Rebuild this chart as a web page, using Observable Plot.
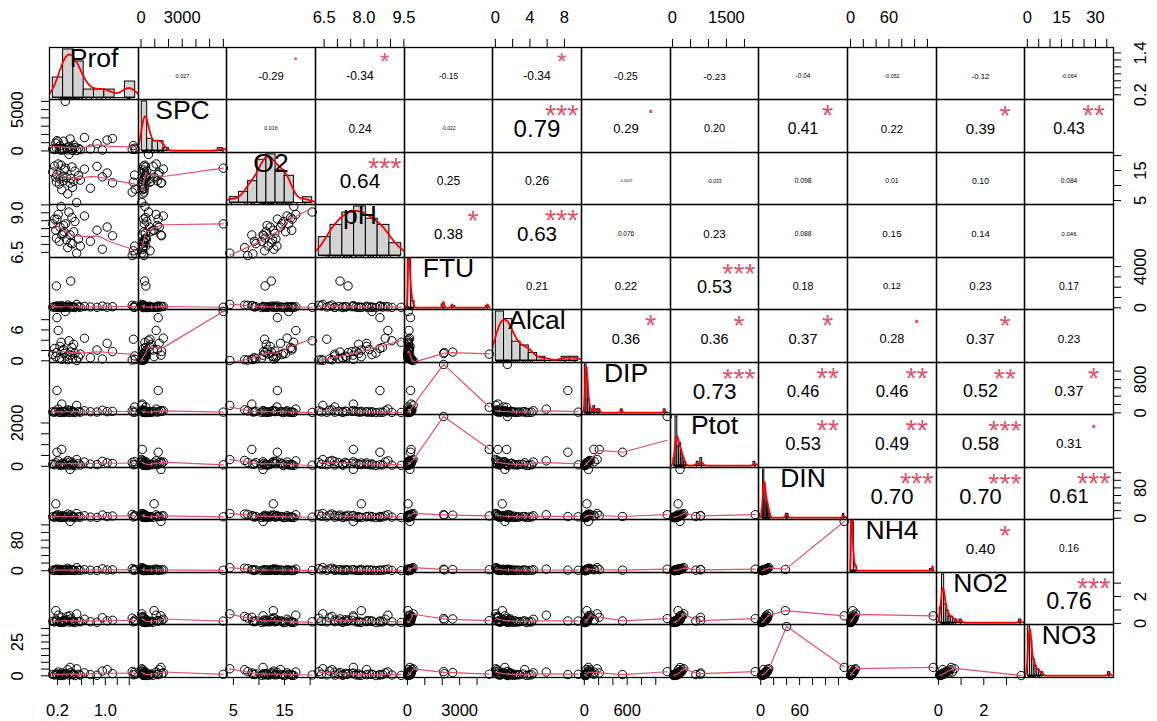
<!DOCTYPE html>
<html><head><meta charset="utf-8">
<script src="https://cdn.jsdelivr.net/npm/d3@7"></script>
<script src="https://cdn.jsdelivr.net/npm/@observablehq/plot@0.6"></script>
<style>
body{margin:0;background:#fff;}
#chart{position:relative;width:1157px;height:721px;background:#fff;overflow:hidden;font-family:"Liberation Sans",Arial,sans-serif;}
#chart svg{position:absolute;overflow:visible;background:transparent;}
</style></head><body><div id="chart"></div>
<script>
// ---- categories ----
const variables = ["Prof","SPC","O2","pH","FTU","Alcal","DIP","Ptot","DIN","NH4","NO2","NO3"];

// ---- observations (estimated from the scatter panels; null = missing) ----
const Prof  = [0.12,0.15,0.17,0.18,0.19,0.21,0.23,0.24,0.26,0.27,0.29,0.30,0.31,0.33,0.35,0.37,0.39,0.41,0.42,0.44,0.45,0.47,0.49,0.52,0.55,0.58,0.65,0.75,0.86,0.95,1.03,1.12,1.45,1.47,1.49,1.50,null,null,null,null];
const SPC   = [240,180,950,350,1250,1100,150,620,280,90,310,1180,200,5990,380,130,540,1450,260,330,70,720,410,50,300,160,1620,230,880,110,1320,1500,210,650,340,190,null,null,null,null];
const O2    = [14.5,16.5,12.8,11.2,13.6,17.2,10.5,12.2,16.8,8.6,13.1,11.6,15.2,15.8,12.6,7.2,20.4,10.8,12.4,16.2,9.4,11.4,14.8,4.3,13.3,11.8,15.5,9.1,16.4,12.9,14.2,10.9,7.8,11.1,13.5,8.8,null,null,null,null];
const pH    = [8.3,8.6,7.9,7.4,8.6,8.9,7.2,8.1,9.4,7.6,7.7,8.2,7.8,8.3,7.3,6.8,9.05,7.6,7.1,8.7,7.05,7.8,8.45,6.45,7.35,6.9,8.8,7.2,7.9,6.7,8.1,7.55,6.3,6.6,6.9,6.4,null,null,null,null];
const FTU   = [60,120,35,2120,180,90,25,150,45,210,70,55,30,50,85,260,40,140,2600,65,110,75,20,330,95,50,130,80,45,160,60,100,240,70,35,190,2080,4700,null,null];
const Alcal = [1.2,2.4,0.8,1.6,8.4,5.9,0.5,2.8,3.6,0.3,1.9,2.2,1.4,9.6,0.9,0.2,3.9,1.1,1.7,2.6,0.4,3.2,1.5,0.05,0.7,1.3,4.4,0.6,2.1,0.35,3.4,1.8,0.15,4.2,0.95,0.25,1.4,1.3,null,null];
const DIP   = [24,15,36,null,535,90,12,21,9,210,33,18,27,17,42,72,11,57,null,13,39,23,7,180,31,16,51,26,20,63,29,36,48,14,140,22,1160,134,null,null];
const Ptot  = [108,72,156,null,650,252,54,90,42,780,144,78,96,66,183,270,51,210,null,63,168,84,36,312,123,57,198,102,76,228,162,132,174,69,216,91,2300,780,null,null];
const DIN   = [4,2.6,38,7.8,4.5,9,2.1,3.5,1.8,7,3,5.2,2.3,3.7,5.5,11,2.8,128.7,8.3,3.2,4.8,4.2,1.7,12.5,3.9,2.7,6.5,3,2.05,8.5,4.5,5.8,10.2,3.4,7.2,5.3,9.5,6.1,40,null];
const NH4   = [1.2,0.8,3.5,2.1,1.5,4.2,0.6,1.0,0.5,2.8,0.9,1.8,0.7,1.1,2.4,6.5,0.9,129,3.1,1.3,2.1,1.6,0.5,8.0,1.4,0.8,2.6,1.2,0.6,4.8,1.7,2.2,5.5,1.1,3.8,1.9,4.1,2.5,null,null];
const NO2   = [0.15,0.11,0.95,0.25,0.18,0.61,0.08,0.13,0.07,0.45,0.12,0.21,0.09,0.17,0.27,0.52,0.11,0.56,0.33,0.11,0.18,0.16,0.06,0.71,0.14,0.12,0.31,0.12,0.08,0.42,0.19,0.23,0.39,0.11,0.25,0.16,0.36,0.21,null,3.65];
const NO3   = [1.0,0.6,null,1.5,0.9,2.8,0.4,0.8,0.3,2.1,0.7,1.2,0.5,1.1,1.8,4.5,0.6,6.2,2.4,0.9,1.4,1.3,0.2,5.2,1.1,0.5,2.2,0.9,0.4,3.5,4.6,1.6,3.1,0.7,2.6,1.15,3.1,1.2,36.5,0.2];

// ---- correlation labels (upper triangle, row by row) and significance ----
const corrLabels = [
  ["0.027","-0.29","-0.34","-0.15","-0.34","-0.25","-0.23","-0.04","-0.052","-0.12","-0.064"],
  ["0.016","0.24","-0.022","0.79","0.29","0.20","0.41","0.22","0.39","0.43"],
  ["0.64","0.25","0.26","-0.0027","-0.033","0.098","0.01","0.10","0.084"],
  ["0.38","0.63","0.076","0.23","0.088","0.15","0.14","0.046"],
  ["0.21","0.22","0.53","0.18","0.12","0.23","0.17"],
  ["0.36","0.36","0.37","0.28","0.37","0.23"],
  ["0.73","0.46","0.46","0.52","0.37"],
  ["0.53","0.49","0.58","0.31"],
  ["0.70","0.70","0.61"],
  ["0.40","0.16"],
  ["0.76"]
];
const corrStars = [
  ["",".","*","","*","","","","","",""],
  ["","","","***",".","","*","","*","**"],
  ["***","","","","","","","",""],
  ["*","***","","","","","",""],
  ["","","***","","","",""],
  ["*","*","*",".","*",""],
  ["***","**","**","**","*"],
  ["**","**","***","."],
  ["***","***","***"],
  ["*",""],
  ["***"]
];

// ---- axis ticks and tick labels ----
const axisTicks = {
  Prof:[0.2,0.4,0.6,0.8,1.0,1.2,1.4], SPC:[0,1000,2000,3000,4000,5000,6000], O2:[5,10,15,20],
  pH:[6.5,7,7.5,8,8.5,9,9.5], FTU:[0,1000,2000,3000,4000], Alcal:[0,2,4,6,8], DIP:[0,200,400,600,800,1000],
  Ptot:[0,500,1000,1500,2000], DIN:[0,20,40,60,80,100,120], NH4:[0,20,40,60,80,100,120], NO2:[0,1,2,3],
  NO3:[0,5,10,15,20,25,30,35]
};
const labelsHoriz = { Prof:[0.2,1.0], SPC:[0,3000], O2:[5,15], pH:[6.5,8.0,9.5], FTU:[0,3000], Alcal:[0,4,8],
  DIP:[0,600], Ptot:[0,1500], DIN:[0,60], NH4:[0,60], NO2:[0,2], NO3:[0,15,30] };
const labelsVert = { Prof:[0.2,1.4], SPC:[0,5000], O2:[5,15], pH:[6.5,9.0], FTU:[0,4000], Alcal:[0,6],
  DIP:[0,800], Ptot:[0,2000], DIN:[0,80], NH4:[0,80], NO2:[0,2], NO3:[0,25] };
const oneDecimal = new Set(["Prof","pH"]);

// ---- histogram breaks ----
const histBreaks = {
  Prof:[0,0.2,0.4,0.6,0.8,1.0,1.2,1.4,1.6], SPC:d3.range(0,6001,400), O2:d3.range(4,23,2),
  pH:[6,6.5,7,7.5,8,8.5,9,9.5], FTU:d3.range(0,4801,200), Alcal:d3.range(0,11,1), DIP:d3.range(0,1201,25),
  Ptot:d3.range(0,2301,50), DIN:d3.range(0,131,2), NH4:d3.range(0,131,5), NO2:d3.range(0,38).map(k=>k/10),
  NO3:d3.range(0,38,1)
};

const cols = {Prof,SPC,O2,pH,FTU,Alcal,DIP,Ptot,DIN,NH4,NO2,NO3};
const N = Prof.length;
const FONT = "Liberation Sans, Arial, sans-serif";
const STYLE = {background:"transparent", overflow:"visible", fontFamily: FONT};
const chart = document.getElementById("chart");
const xEdge = j => Math.round(49 + j*88.67);
const yEdge = i => Math.round(46.7 + i*52.5);

const ctx = document.createElement("canvas").getContext("2d");
ctx.font = '100px "Liberation Sans", Arial, sans-serif';
const emWidth = s => ctx.measureText(s).width/100;

function ext(v){
  const vals = cols[v].filter(d=>d!=null);
  const [a,b] = d3.extent(vals); const r = b-a;
  return [a-0.04*r, b+0.04*r];
}
function fmt(v,d){ return oneDecimal.has(v) ? d3.format(".1f")(d) : String(d); }

function lowess(xIn, yIn, f=2/3, iter=3){
  const n = xIn.length;
  const order = d3.range(n).sort((a,b)=>xIn[a]-xIn[b]);
  const x = order.map(i=>xIn[i]), y = order.map(i=>yIn[i]);
  if (n < 2) return x.map((xi,i)=>[xi,y[i]]);
  const ns = Math.max(2, Math.min(n, Math.floor(f*n+1e-7)));
  const ys = new Array(n).fill(0), rw = new Array(n).fill(1), res = new Array(n).fill(0);
  const range = x[n-1]-x[0];
  for (let it=0; it<=iter; it++){
    let nleft=0, nright=ns-1;
    for (let i=0;i<n;i++){
      while (nright < n-1){
        const d1 = x[i]-x[nleft], d2 = x[nright+1]-x[i];
        if (d1 <= d2) break;
        nleft++; nright++;
      }
      const h = Math.max(x[i]-x[nleft], x[nright]-x[i]);
      const h9 = 0.999*h, h1 = 0.001*h;
      const w = new Array(n).fill(0);
      let a = 0, j;
      for (j=nleft;j<n;j++){
        const r = Math.abs(x[j]-x[i]);
        if (r <= h9){
          w[j] = (r <= h1 ? 1 : Math.pow(1-Math.pow(r/h,3),3)) * rw[j];
          a += w[j];
        } else if (x[j] > x[i]) break;
      }
      const nrt = j-1;
      if (a <= 0){ ys[i] = y[i]; continue; }
      for (let k=nleft;k<=nrt;k++) w[k] /= a;
      if (h > 0){
        let b=0; for (let k=nleft;k<=nrt;k++) b += w[k]*x[k];
        let c=0; for (let k=nleft;k<=nrt;k++) c += w[k]*(x[k]-b)**2;
        if (Math.sqrt(c) > 0.001*range){
          const bb = (x[i]-b)/c;
          for (let k=nleft;k<=nrt;k++) w[k] *= bb*(x[k]-b)+1;
        }
      }
      let s=0; for (let k=nleft;k<=nrt;k++) s += w[k]*y[k];
      ys[i] = s;
    }
    if (it >= iter) break;
    for (let i=0;i<n;i++) res[i] = y[i]-ys[i];
    const sc = d3.sum(res, Math.abs)/n;
    const absr = res.map(Math.abs).sort(d3.ascending);
    const m1 = Math.floor(n/2);
    const cmad = n%2 ? 6*absr[m1] : 3*(absr[m1-1]+absr[m1]);
    if (cmad < 1e-7*sc || cmad === 0) break;
    const c9 = 0.999*cmad, c1 = 0.001*cmad;
    for (let i=0;i<n;i++){ const r=Math.abs(res[i]); rw[i] = r<=c1 ? 1 : r<=c9 ? (1-(r/cmad)**2)**2 : 0; }
  }
  return x.map((xi,i)=>[xi,ys[i]]);
}

function kde(values){
  const n = values.length;
  const sd = d3.deviation(values);
  const iqr = d3.quantile(values,0.75)-d3.quantile(values,0.25);
  let lo = Math.min(sd, iqr/1.34);
  if (!(lo>0)) lo = sd || Math.abs(values[0]) || 1;
  const bw = 0.9*lo*Math.pow(n,-0.2);
  const [mn,mx] = d3.extent(values);
  const a = mn-3*bw, b = mx+3*bw;
  return d3.range(512).map(k=>{
    const x = a+(b-a)*k/511;
    const s = d3.sum(values, v=>Math.exp(-0.5*((x-v)/bw)**2));
    return [x, s/(n*bw*Math.sqrt(2*Math.PI))];
  });
}

const frame = () => Plot.frame({stroke:"black", strokeWidth:1.3});

function scatterPanel(xv, yv, w, h){
  const pts = d3.range(N).filter(k=>cols[xv][k]!=null && cols[yv][k]!=null).map(k=>({x:cols[xv][k], y:cols[yv][k]}));
  const sm = lowess(pts.map(d=>d.x), pts.map(d=>d.y));
  return Plot.plot({width:w, height:h, margin:0, style:STYLE,
    x:{domain:ext(xv), axis:null}, y:{domain:ext(yv), axis:null},
    marks:[
      Plot.dot(pts, {x:"x", y:"y", r:4.2, stroke:"black", strokeWidth:1, fill:"none"}),
      Plot.line(sm, {x:d=>d[0], y:d=>d[1], stroke:"#DF536B", strokeWidth:1.2}),
      frame()
    ]});
}

function diagPanel(v, w, h){
  const vals = cols[v].filter(d=>d!=null);
  const n = vals.length;
  const br = histBreaks[v];
  const b0 = br[0], b1 = br[br.length-1], R = b1-b0;
  const bins = d3.bin().domain([b0,b1]).thresholds(br.slice(1,-1))(vals);
  const hist = bins.map(b=>({x1:b.x0, x2:b.x1, d:b.length/(n*(b.x1-b.x0))}));
  const m = d3.max(hist, d=>d.d);
  const dens = kde(vals);
  const fsL = 26.5;
  return Plot.plot({width:w, height:h, margin:0, style:STYLE,
    x:{domain:[b0-0.04*R, b1+0.04*R], axis:null}, y:{domain:[-0.04*m, 1.04*m], axis:null},
    marks:[
      Plot.rect(hist.filter(d=>d.d>0), {x1:"x1", x2:"x2", y1:0, y2:"d", fill:"#D3D3D3", stroke:"black", strokeWidth:1}),
      Plot.ruleY([0], {x1:b0, x2:b1, stroke:"black", strokeWidth:1}),
      Plot.line(dens, {x:d=>d[0], y:d=>d[1], stroke:"red", strokeWidth:1.8, clip:true}),
      Plot.tickX(vals, {x:d=>d, insetTop:h-2, stroke:"black"}),
      Plot.text([v], {text:d=>d, frameAnchor:"middle", lineAnchor:"bottom", dy:(0.167*h+1-h/2)+0.36*fsL, fontSize:fsL, fill:"black"}),
      frame()
    ]});
}

function corrPanel(i, j, w, h){
  const txt = corrLabels[i][j-i-1], sig = corrStars[i][j-i-1];
  const r = Math.abs(parseFloat(txt));
  const base = 0.628*w/emWidth(txt);
  const fs = base*(r+0.3)/1.3;
  const marks = [Plot.text([txt], {text:d=>d, frameAnchor:"middle", lineAnchor:"bottom", dy:2.5+0.36*fs, fontSize:fs, fill:"black"})];
  if (sig){
    const ink = sig === "." ? 0.05 : 0.55;
    const off = sig === "." ? 1 : -1;
    marks.push(Plot.text([sig], {text:d=>d, frameAnchor:"middle", lineAnchor:"bottom", dx:0.3*w-2, dy:-0.3*h+off+ink*base, fontSize:base, fill:"#DF536B"}));
  }
  marks.push(frame());
  return Plot.plot({width:w, height:h, margin:0, style:STYLE, marks});
}

function place(svg, left, top){ svg.style.left = left+"px"; svg.style.top = top+"px"; chart.appendChild(svg); }

// panels
for (let i=0;i<12;i++) for (let j=0;j<12;j++){
  const left = xEdge(j), top = yEdge(i), w = xEdge(j+1)-left, h = yEdge(i+1)-top;
  let svg;
  if (i > j) svg = scatterPanel(variables[j], variables[i], w, h);
  else if (i === j) svg = diagPanel(variables[i], w, h);
  else svg = corrPanel(i, j, w, h);
  place(svg, left, top);
}

// axes
const AX = 16.5;
function xAxisStrip(v, w, H, side){
  const dom = ext(v);
  const ticks = axisTicks[v].filter(t=>t>=dom[0] && t<=dom[1]);
  const labs = labelsHoriz[v].filter(t=>t>=dom[0] && t<=dom[1]);
  return Plot.plot({width:w, height:H, margin:0, style:STYLE, x:{domain:dom, axis:null},
    marks:[
      Plot.ruleX(ticks, side==="top" ? {x:d=>d, insetTop:H-8, stroke:"black"} : {x:d=>d, insetBottom:H-8, stroke:"black"}),
      Plot.text(labs, {x:d=>d, text:d=>fmt(v,d), frameAnchor:"top", lineAnchor:"bottom", dy: side==="top" ? 16.7+0.36*AX : 32.5+0.36*AX, fontSize:AX, fill:"black"})
    ]});
}
function yAxisStrip(v, W, h, side){
  const dom = ext(v);
  const ticks = axisTicks[v].filter(t=>t>=dom[0] && t<=dom[1]);
  const labs = labelsVert[v].filter(t=>t>=dom[0] && t<=dom[1]);
  return Plot.plot({width:W, height:h, margin:0, style:STYLE, y:{domain:dom, axis:null},
    marks:[
      Plot.ruleY(ticks, side==="left" ? {y:d=>d, insetLeft:W-8, stroke:"black"} : {y:d=>d, insetRight:W-8, stroke:"black"}),
      Plot.text(labs, {y:d=>d, text:d=>fmt(v,d), frameAnchor:"left", rotate:-90, textAnchor:"middle", lineAnchor:"bottom",
        dx: side==="left" ? 16.7+0.36*AX : 27+0.36*AX, fontSize:AX, fill:"black"})
    ]});
}
for (let j=0;j<12;j++){
  const left = xEdge(j), w = xEdge(j+1)-left;
  if (j%2===1){ const H = yEdge(0); place(xAxisStrip(variables[j], w, H, "top"), left, 0); }
  else { const H = 44; place(xAxisStrip(variables[j], w, H, "bottom"), left, yEdge(12)); }
}
for (let i=0;i<12;i++){
  const top = yEdge(i), h = yEdge(i+1)-top;
  if (i%2===1){ const W = xEdge(0); place(yAxisStrip(variables[i], W, h, "left"), 0, top); }
  else { const W = 44; place(yAxisStrip(variables[i], W, h, "right"), xEdge(12), top); }
}
</script></body></html>
